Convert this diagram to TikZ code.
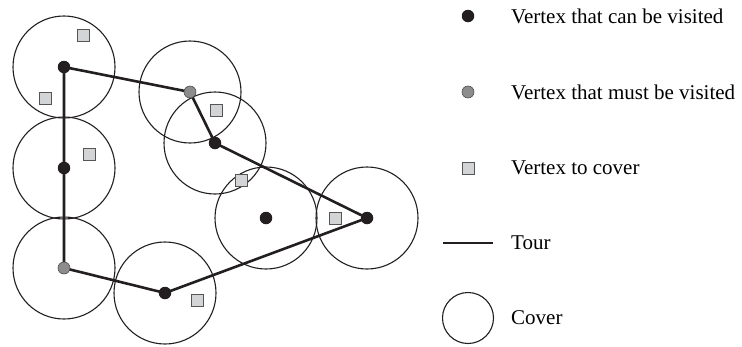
\documentclass[tikz,border=0pt]{standalone}
\usepackage{fontspec}
\setmainfont{Liberation Serif}
\definecolor{dotblack}{HTML}{231F20}
\definecolor{dotgray}{HTML}{8C8C8C}
\definecolor{sqfill}{HTML}{D3D4D5}
\definecolor{sqdraw}{HTML}{555555}
\tikzset{
  canvisit/.style={circle,fill=dotblack,inner sep=0pt,minimum size=12.5pt},
  mustvisit/.style={circle,fill=dotgray,draw=dotblack!80,line width=0.6pt,inner sep=0pt,minimum size=12pt},
  tocover/.style={rectangle,fill=sqfill,draw=sqdraw,line width=0.8pt,inner sep=0pt,minimum size=12pt},
  cover/.style={draw=dotblack,line width=1.1pt},
  tour/.style={draw=dotblack,line width=2.6pt},
  legtext/.style={anchor=west,inner sep=0pt,font=\fontsize{21}{24}\selectfont}
}
\begin{document}
\begin{tikzpicture}[x=1pt,y=-1pt]
\useasboundingbox (0,0) rectangle (742,346);
% vertex positions
\coordinate (pA) at (64,67);
\coordinate (pB) at (64,168);
\coordinate (pC) at (64,268);
\coordinate (pD) at (165,293);
\coordinate (pE) at (367,218);
\coordinate (pF) at (215,143);
\coordinate (pG) at (190,92);
\coordinate (pH) at (266,218);
% covers
\foreach \p in {pA,pB,pC,pD,pE,pF,pG,pH}
  \draw[cover] (\p) circle[radius=51pt];
% tour
\draw[tour,line join=round] (pA) -- (pG) -- (pF) -- (pE) -- (pD) -- (pC) -- cycle;
% vertices to cover
\node[tocover] (s1) at (83,35) {};
\node[tocover] (s2) at (45,98) {};
\node[tocover] (s3) at (89,154) {};
\node[tocover] (s4) at (216,110) {};
\node[tocover] (s5) at (241,180) {};
\node[tocover] (s6) at (335,218) {};
\node[tocover] (s7) at (197,300) {};
% vertices
\node[canvisit] (A) at (pA) {};
\node[canvisit] (B) at (pB) {};
\node[mustvisit] (C) at (pC) {};
\node[canvisit] (D) at (pD) {};
\node[canvisit] (E) at (pE) {};
\node[canvisit] (F) at (pF) {};
\node[mustvisit] (G) at (pG) {};
\node[canvisit] (H) at (pH) {};
% legend
\node[canvisit] (l1) at (468,16) {};
\node[legtext] (t1) at (511,16) {Vertex that can be visited};
\node[mustvisit] (l2) at (468,92) {};
\node[legtext] (t2) at (511,92) {Vertex that must be visited};
\node[tocover] (l3) at (468,168) {};
\node[legtext] (t3) at (511,168) {Vertex to cover};
\coordinate (l4a) at (443,243);
\coordinate (l4b) at (493,243);
\draw[tour] (l4a) -- (l4b);
\node[legtext] (t4) at (511,243) {Tour};
\node[circle,draw=dotblack,line width=1.1pt,minimum size=51pt,inner sep=0pt] (l5) at (468,318) {};
\node[legtext] (t5) at (511,318) {Cover};
\end{tikzpicture}
\end{document}
